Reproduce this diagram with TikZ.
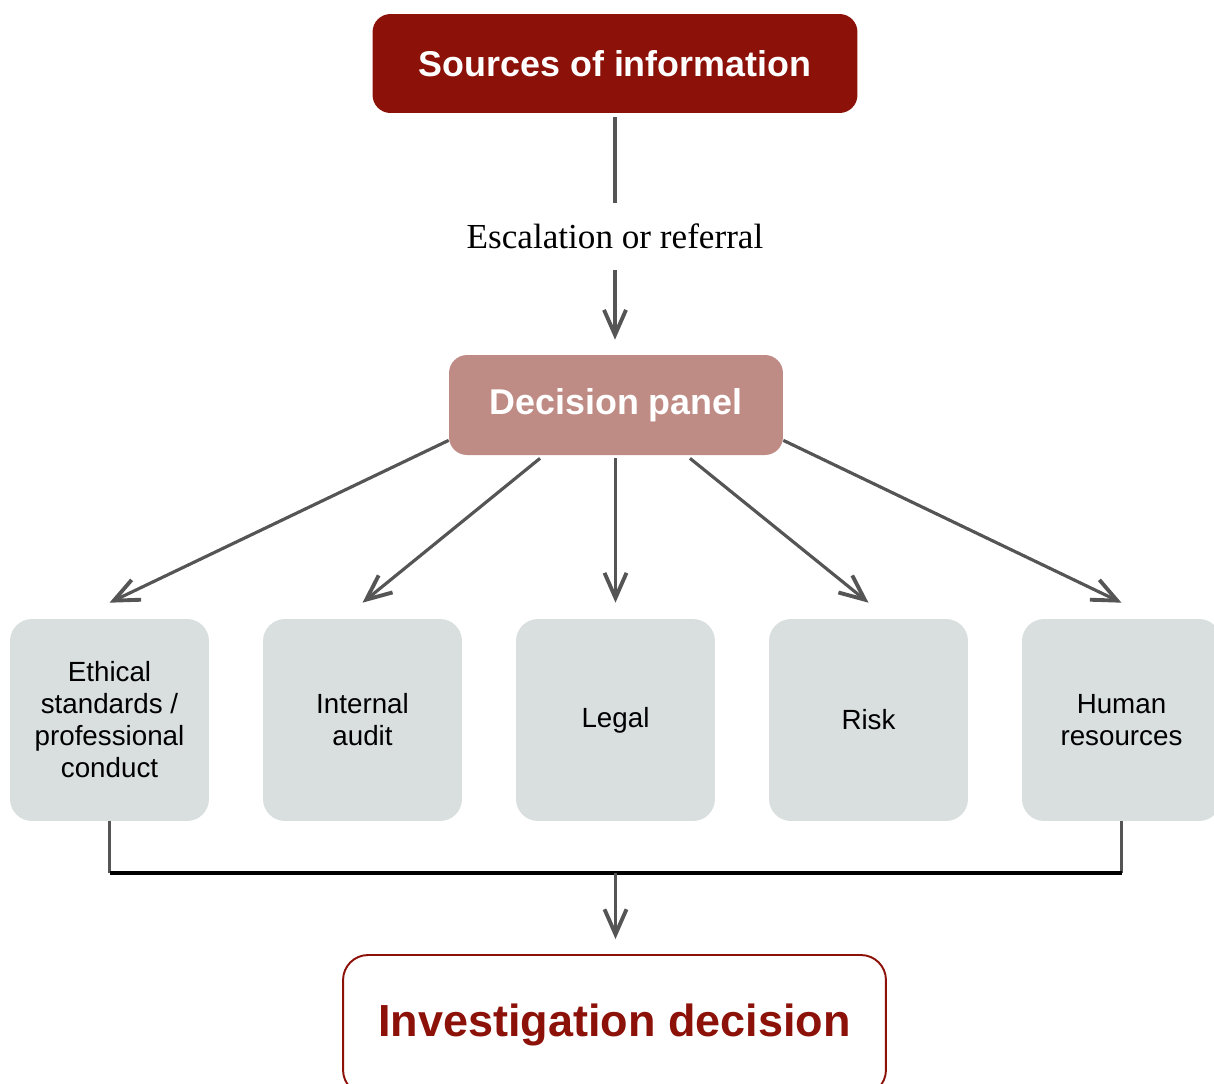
\documentclass[tikz,border=0pt]{standalone}
\usepackage{fontspec}
\setmainfont{Liberation Serif}
\setsansfont{Liberation Sans}
\usetikzlibrary{arrows.meta}

\definecolor{srccol}{HTML}{8C1108}
\definecolor{panelcol}{HTML}{BF8B85}
\definecolor{unitcol}{HTML}{D9DFDE}
\definecolor{linecol}{HTML}{555555}

\begin{document}
\begin{tikzpicture}[
    x=0.02cm, y=-0.02cm,
    srcbox/.style={fill=srccol, text=white, rounded corners=0.36cm, minimum width=9.7cm, minimum height=1.98cm, font=\sffamily\bfseries\fontsize{20.4}{24}\selectfont},
    panelbox/.style={fill=panelcol, text=white, rounded corners=0.36cm, minimum width=6.68cm, minimum height=2cm, font=\sffamily\bfseries\fontsize{20.4}{24}\selectfont},
    unitbox/.style={fill=unitcol, rounded corners=0.44cm, minimum width=3.98cm, minimum height=4.04cm, align=center, font=\sffamily\fontsize{15.8}{18.2}\selectfont},
    decbox/.style={draw=srccol, line width=1.1pt, fill=white, text=srccol, rounded corners=0.5cm, minimum width=10.86cm, minimum height=2.8cm, font=\sffamily\bfseries\fontsize{25.6}{30}\selectfont},
    esclabel/.style={inner sep=0pt, minimum height=1.34cm, font=\fontsize{20}{24}\selectfont},
    grayline/.style={draw=linecol, line width=1.8pt},
    blackline/.style={draw=black, line width=1.8pt},
    grayarrow/.style={-{Straight Barb[length=0.5cm, width=0.44cm, line width=2.2pt]}, draw=linecol, line width=1.8pt}
  ]

  \useasboundingbox (0,0) rectangle (1214,1083);

  \coordinate (srcp)   at (615, 63.5);
  \coordinate (escp)   at (615, 236.5);
  \coordinate (panelp) at (616, 405);

  \coordinate (ethp)   at (109.5, 720);
  \coordinate (audp)   at (362.5, 720);
  \coordinate (legp)   at (615.5, 720);
  \coordinate (riskp)  at (868.5, 720);
  \coordinate (hrp)    at (1121.5, 720);

  \coordinate (joint)  at (615.5, 873);
  \coordinate (decp)   at (614.5, 1025);

  % Top
  \node[srcbox] (src) at (srcp) {Sources of information};
  \node[esclabel] (esc) at (escp) {Escalation or referral};
  \node[panelbox] (panel) at (panelp) {Decision panel};

  % Units
  \node[unitbox] (eth) at (ethp) {Ethical\\standards /\\professional\\conduct};
  \node[unitbox] (aud) at (audp) {Internal\\audit};
  \node[unitbox] (leg) at (legp) {Legal};
  \node[unitbox] (risk) at (riskp) {Risk};
  \node[unitbox] (hr) at (hrp) {Human\\resources};

  % Bottom
  \node[decbox] (dec) at (decp) {Investigation decision};

  % Connect
  \draw[grayline] ([yshift=-0.08cm]src.south) -- (esc);
  \draw[grayarrow, shorten >=0.3cm] (esc) -- (esc |- panel.north);

  \draw[grayarrow] ([yshift=0.3cm]panel.south west) -- ([yshift=0.32cm]eth.north);
  \draw[grayarrow] ([xshift=-1.52cm, yshift=-0.06cm]panel.south) -- ([yshift=0.32cm]aud.north);
  \draw[grayarrow] ([yshift=-0.06cm]panel.south -| leg.north) -- ([yshift=0.32cm]leg.north);
  \draw[grayarrow] ([xshift=1.48cm, yshift=-0.06cm]panel.south) -- ([yshift=0.32cm]risk.north);
  \draw[grayarrow] ([yshift=0.3cm]panel.south east) -- ([yshift=0.32cm]hr.north);

  \draw[grayline] (eth.south) -- (eth.south |- joint);
  \draw[grayline] (hr.south) -- (hr.south |- joint);
  \draw[blackline] (eth.south |- joint) -- (hr.south |- joint);
  \draw[grayarrow, shorten >=0.3cm] (joint) -- (joint |- dec.north);

\end{tikzpicture}
\end{document}
